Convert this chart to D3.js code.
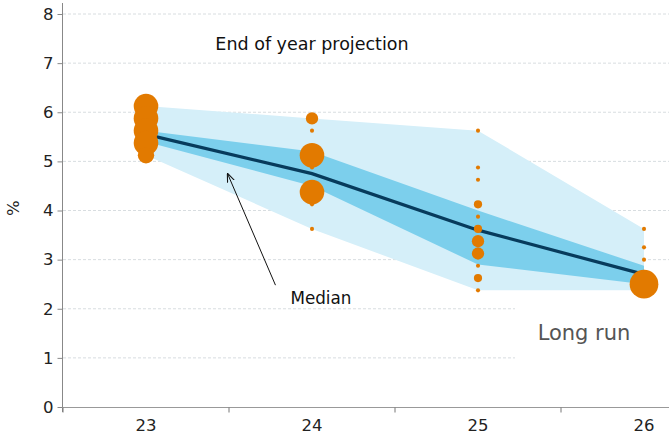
<!DOCTYPE html>
<html><head><meta charset="utf-8">
<script src="https://cdn.jsdelivr.net/npm/d3@7"></script>
<style>
html,body{margin:0;padding:0;background:#fff;}
svg{display:block;font-family:"DejaVu Sans",Verdana,sans-serif;}
</style></head>
<body><svg id="c" width="669" height="443"></svg>
<script>
// ---- data ----
const categories = ["23","24","25","26"];
const yTicks = [0,1,2,3,4,5,6,7,8];
const medianValues = [5.55, 4.75, 3.6, 2.7];
const rangeHigh = [6.125, 5.875, 5.625, 3.625];
const rangeLow = [5.125, 3.625, 2.375, 2.375];
const centralHigh = [5.625, 5.2, 4.0, 2.875];
const centralLow = [5.4, 4.5, 2.9, 2.5];
const dots23 = [[6.125,6],[5.875,6],[5.625,6],[5.375,6],[5.125,4]];
const dots24 = [[5.875,3],[5.625,1],[5.125,6],[4.875,1],[4.375,6],[4.125,1],[3.625,1]];
const dots25 = [[5.625,1],[4.875,1],[4.625,1],[4.125,2],[3.875,1],[3.625,2],[3.375,3],[3.125,3],[2.875,1],[2.625,2],[2.375,1]];
const dots26 = [[3.625,1],[3.25,1],[3.0,1],[2.75,1],[2.5,7]];
const dotsByCat = [dots23, dots24, dots25, dots26];

// ---- layout ----
const W = 669, H = 443;
const svg = d3.select("#c");
const x = d3.scaleBand().domain(categories).range([63, 727]).paddingInner(0).paddingOuter(0);
const y = d3.scaleLinear().domain([0, 8]).range([407, 14]);
const r = d3.scaleLinear().domain([0, 1]).range([0, 2.05]);
const cx = c => x(c) + x.bandwidth() / 2;
const xAt = (i, f) => cx(categories[i]) + f * x.bandwidth();
const FONT = '"DejaVu Sans",Verdana,sans-serif';

// gridlines
svg.append("g").selectAll("line").data(yTicks.filter(t => t > 0)).join("line")
  .attr("x1", 63).attr("x2", W).attr("y1", d => y(d)).attr("y2", d => y(d))
  .attr("stroke", "#d4d9dc").attr("stroke-width", 0.9).attr("stroke-dasharray", "3,2");

// white box behind "Long run"
svg.append("rect").attr("x", 515).attr("y", y(2.2)).attr("width", W - 515).attr("height", y(0.9) - y(2.2)).attr("fill", "#fff");

// bands
const outer = categories.map((c, i) => ({c, hi: rangeHigh[i], lo: rangeLow[i]}));
const inner = categories.map((c, i) => ({c, hi: centralHigh[i], lo: centralLow[i]}));
const area = d3.area().x(d => cx(d.c)).y0(d => y(d.lo)).y1(d => y(d.hi));
svg.append("path").datum(outer).attr("d", area).attr("fill", "#d5eff9");
svg.append("path").datum(inner).attr("d", area).attr("fill", "#7ccfec");

// median line
svg.append("path").datum(categories.map((c, i) => ({c, v: medianValues[i]})))
  .attr("d", d3.line().x(d => cx(d.c)).y(d => y(d.v)))
  .attr("fill", "none").attr("stroke", "#073b5c").attr("stroke-width", 3.2);

// dots
categories.forEach((c, i) => {
  svg.append("g").selectAll("circle").data(dotsByCat[i]).join("circle")
    .attr("cx", cx(c)).attr("cy", d => y(d[0])).attr("r", d => r(d[1]))
    .attr("fill", "#e27a00");
});

// axes
const yAxis = d3.axisLeft(y).tickValues(yTicks).tickSize(5).tickPadding(4);
const gy = svg.append("g").attr("transform", "translate(62.5,0)").call(yAxis);
gy.select(".domain").attr("d", "M0,3V412").attr("stroke", "#888");
gy.selectAll(".tick line").attr("stroke", "#888");
gy.selectAll("text").attr("font-size", 16.5).attr("fill", "#222").attr("font-family", FONT);

const xAxis = d3.axisBottom(x).tickSize(0).tickPadding(12);
const gx = svg.append("g").attr("transform", "translate(0,407.5)").call(xAxis);
gx.select(".domain").attr("d", `M62,0H${W}`).attr("stroke", "#999");
gx.selectAll("text").attr("font-size", 16.5).attr("fill", "#222").attr("font-family", FONT);
gx.selectAll(".tk").data(categories).join("line").attr("class", "tk")
  .attr("x1", d => x(d)).attr("x2", d => x(d)).attr("y1", 0).attr("y2", 5).attr("stroke", "#777");

// y label
svg.append("text").attr("transform", `translate(19,${y(4.05)}) rotate(-90)`).attr("text-anchor", "middle")
  .attr("font-size", 16.5).attr("fill", "#222").text("%");

// annotations
svg.append("text").attr("x", 312).attr("y", y(7.25) - 1).attr("text-anchor", "middle")
  .attr("font-size", 17.5).attr("fill", "#111").text("End of year projection");
svg.append("text").attr("x", 584).attr("y", y(1.5) + 7).attr("text-anchor", "middle")
  .attr("font-size", 21).attr("fill", "#555").text("Long run");

svg.append("defs").append("marker").attr("id", "ah").attr("viewBox", "0 0 10 10")
  .attr("refX", 10).attr("refY", 5).attr("markerWidth", 9).attr("markerHeight", 9).attr("orient", "auto")
  .attr("markerUnits", "userSpaceOnUse")
  .append("path").attr("d", "M0,1L10,5L0,9").attr("fill", "none").attr("stroke", "#111").attr("stroke-width", 1.2);
svg.append("line").attr("x1", xAt(0, 0.78)).attr("y1", y(2.48)).attr("x2", xAt(0, 0.49)).attr("y2", y(4.76))
  .attr("stroke", "#111").attr("stroke-width", 1).attr("marker-end", "url(#ah)");
svg.append("text").attr("x", xAt(0, 0.87)).attr("y", y(2.15) + 2.5).attr("font-size", 16.8)
  .attr("fill", "#111").text("Median");
</script></body></html>
